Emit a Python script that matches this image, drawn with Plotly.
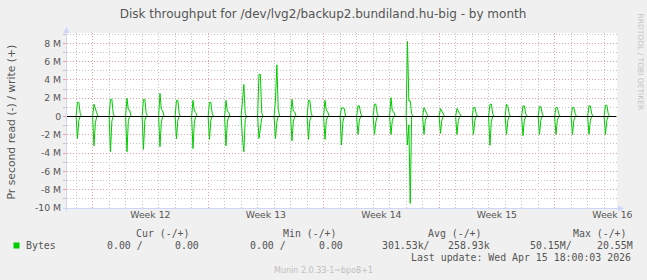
import plotly.graph_objects as go
import pandas as pd

# ---------------- data ----------------
title_text = "Disk throughput for /dev/lvg2/backup2.bundiland.hu-big - by month"
y_title = "Pr second read (-) / write (+)"

x_start = "2026-03-14 10:45"
x_end = "2026-04-16 18:45"
week0 = "2026-03-16"          # a Monday (start of ISO week 12)

# one backup burst per day; values in MB/s (1e6 bytes/s) at 2-hour samples
spike_days = pd.date_range("2026-03-15", "2026-04-16", freq="D")
sample_hours = [2, 4, 6, 8]

write_h02 = [1.55, 1.34, 1.88, 2.00, 1.88, 2.53, 1.77, 1.77, 1.55, 1.77, 1.70, 4.60, 1.80,
             1.88, 1.77, 1.77, 0.94, 1.16, 1.34, 2.07, 8.20, 0.98, 0.87, 0.87, 0.98, 1.34,
             1.34, 1.16, 1.10, 0.98, 0.98, 1.16, 1.23]
write_h04 = [1.55, 0.70, 1.88, 0.75, 1.88, 0.80, 1.77, 0.60, 1.55, 0.60, 3.50, 4.60, 5.65,
             0.60, 1.77, 0.70, 0.94, 1.16, 1.34, 0.60, 1.70, 0.60, 0.60, 0.50, 0.98, 1.34,
             1.10, 1.16, 1.10, 0.98, 0.98, 1.16, 1.23]
write_h06 = [0.30, 0.40, 0.30, 0.70, 0.30, 0.60, 0.30, 0.45, 0.30, 0.45, 0.30, 0.40, 0.80,
             0.50, 0.30, 0.50, 0.90, 0.30, 0.30, 0.50, 1.70, 0.30, 0.30, 0.30, 0.30, 0.30,
             0.30, 0.30, 0.30, 0.30, 0.30, 0.30, 0.30]
write_h08 = [0, 0, 0, 0, 0, 0, 0, 0, 0, 0, 0, 0, 0,
             0, 0, 0, 0, 0, 0, 0, 0.30, 0, 0, 0, 0, 0,
             0, 0, 0, 0, 0, 0, 0]

read_h02 = [2.40, 3.20, 3.85, 3.85, 3.60, 3.30, 2.43, 3.50, 2.50, 3.20, 2.40, 2.40, 2.40,
            2.65, 2.50, 2.50, 3.10, 1.96, 1.96, 1.96, 3.10, 1.96, 1.85, 1.96, 1.96, 3.15,
            1.96, 2.10, 1.96, 1.96, 1.96, 1.96, 1.96]
read_h04 = [0.40, 0.70, 0.50, 0.40, 0.40, 0.60, 0.40, 0.60, 0.40, 0.60, 3.85, 0.90, 0.60,
            0.50, 0.40, 0.40, 0.60, 0.40, 0.60, 0.40, 0.90, 0.40, 0.40, 0.40, 0.40, 0.50,
            0.40, 0.40, 0.40, 0.40, 0.40, 0.40, 0.40]
read_h06 = [0, 0, 0, 0, 0, 0, 0, 0, 0, 0, 0.30, 0.20, 0,
            0, 0, 0, 0, 0, 0, 0, 9.50, 0, 0, 0, 0, 0,
            0, 0, 0, 0, 0, 0, 0]
read_h08 = [0] * 33

y_tick_vals_m = [-10, -8, -6, -4, -2, 0, 2, 4, 6, 8]
y_tick_text = ["-10 M", "-8 M", "-6 M", "-4 M", "-2 M", "0", "2 M", "4 M", "6 M", "8 M"]
y_minor_vals_m = [-9, -7, -5, -3, -1, 1, 3, 5, 7, 9]

legend_name = "Bytes"
legend_headers = ["Cur (-/+)", "Min (-/+)", "Avg (-/+)", "Max (-/+)"]
legend_read = ["0.00 /", "0.00 /", "301.53k/", "50.15M/"]
legend_write = ["0.00", "0.00", "258.93k", "20.55M"]
last_update = "Last update: Wed Apr 15 18:00:03 2026"
munin_ver = "Munin 2.0.33-1~bpo8+1"
watermark = "RRDTOOL / TOBI OETIKER"

# ---------------- build series (2-hour consolidation, zero between bursts) ----------------
grid_t = pd.date_range("2026-03-14 10:00", "2026-04-16 18:00", freq="2h")
w_map = {t: 0.0 for t in grid_t}
r_map = {t: 0.0 for t in grid_t}
w_cols = [write_h02, write_h04, write_h06, write_h08]
r_cols = [read_h02, read_h04, read_h06, read_h08]
for i, d in enumerate(spike_days):
    for k, h in enumerate(sample_hours):
        t = d + pd.Timedelta(hours=h)
        w_map[t] = w_cols[k][i]
        r_map[t] = r_cols[k][i]
times = sorted(w_map)
write_vals = [w_map[t] * 1e6 for t in times]
read_vals = [-r_map[t] * 1e6 for t in times]

# ---------------- layout geometry ----------------
W, H = 647, 280
L, R, T, B = 67, 30, 33, 72
PW, PH = W - L - R, H - T - B


def px(x):
    return (x - L) / PW


def py(y):
    return (H - B - y) / PH


GREEN = "#00CC00"
GRID = "#C4C4C4"
MGRID = "#EDA0A0"
AXIS = "#CFD6F8"
FONT = "#555555"
SANS = "DejaVu Sans"
MONO = "DejaVu Sans Mono"
DASH = "1px,2px"

fig = go.Figure()
fig.add_trace(go.Scatter(x=times, y=read_vals, mode="lines",
                         line=dict(color=GREEN, width=1), hoverinfo="skip", showlegend=False))
fig.add_trace(go.Scatter(x=times, y=write_vals, mode="lines",
                         line=dict(color=GREEN, width=1), hoverinfo="skip", showlegend=False))

fig.update_layout(
    width=W, height=H,
    margin=dict(l=L, r=R, t=T, b=B, pad=0),
    paper_bgcolor="#F0F0F0", plot_bgcolor="#FFFFFF",
    font=dict(family=SANS, size=9.3, color=FONT),
    showlegend=False,
    title=dict(text=title_text, x=323 / W, xanchor="center", y=1 - 14 / H, yanchor="middle",
               font=dict(family=SANS, size=12, color=FONT)),
)

fig.update_xaxes(
    type="date", range=[x_start, x_end],
    tickmode="linear", tick0=week0, dtick=7 * 86400000,
    ticklabelmode="period", tickformat="Week %V",
    showgrid=True, gridcolor=MGRID, griddash=DASH, gridwidth=1,
    ticks="", showline=False, zeroline=False,
    tickfont=dict(family=SANS, size=9.3, color=FONT),
    minor=dict(tick0=week0, dtick=86400000, showgrid=True, gridcolor=GRID,
               griddash=DASH, gridwidth=1),
)

fig.update_yaxes(
    range=[-10e6, 9.125e6],
    tickmode="array", tickvals=[v * 1e6 for v in y_tick_vals_m], ticktext=y_tick_text,
    showgrid=True, gridcolor=MGRID, griddash=DASH, gridwidth=1,
    ticks="outside", ticklen=3, tickcolor=MGRID, tickwidth=1,
    zeroline=False, showline=False,
    tickfont=dict(family=SANS, size=9.3, color=FONT),
    minor=dict(tickmode="array", tickvals=[v * 1e6 for v in y_minor_vals_m], showgrid=True,
               gridcolor=GRID, griddash=DASH, gridwidth=1,
               ticks="outside", ticklen=3, tickcolor=GRID),
)

shapes = []
# zero rule (drawn above the data)
shapes.append(dict(type="line", xref="paper", yref="y", x0=0, x1=px(616), y0=0, y1=0,
                   line=dict(color="#000000", width=1), layer="above"))
# axes with arrows
shapes.append(dict(type="line", xref="paper", yref="paper", x0=px(66.5), x1=px(66.5),
                   y0=py(211.5), y1=py(30), line=dict(color=AXIS, width=1)))
shapes.append(dict(type="line", xref="paper", yref="paper", x0=px(63), x1=px(620),
                   y0=py(208.5), y1=py(208.5), line=dict(color=AXIS, width=1)))
shapes.append(dict(type="path", xref="paper", yref="paper",
                   path=f"M {px(63.5)},{py(33)} L {px(66.5)},{py(26.5)} L {px(69.5)},{py(33)} Z",
                   fillcolor=AXIS, line=dict(width=0)))
shapes.append(dict(type="path", xref="paper", yref="paper",
                   path=f"M {px(618)},{py(205.5)} L {px(624)},{py(208.5)} L {px(618)},{py(211.5)} Z",
                   fillcolor=AXIS, line=dict(width=0)))
# legend colour box
shapes.append(dict(type="rect", xref="paper", yref="paper", x0=px(13.5), x1=px(19.5),
                   y0=py(248.5), y1=py(242.5), fillcolor=GREEN, line=dict(width=0)))
fig.update_layout(shapes=shapes)

ann = []


def text(s, x, y, anchor="left", font=MONO, size=9.9, color=FONT, angle=0):
    ann.append(dict(text=s, x=px(x), y=py(y), xref="paper", yref="paper",
                    xanchor=anchor, yanchor="middle", showarrow=False,
                    borderpad=0, borderwidth=0, textangle=angle,
                    font=dict(family=font, size=size, color=color)))


text(y_title, 10.5, 122, anchor="center", font=SANS, size=10.8, angle=-90)
text(watermark, 640.5, 62, anchor="center", font=SANS, size=7.5, color="#C4C4C4", angle=90)

header_x = [136.1, 282.6, 427.8, 573.4]
read_x = [107.3, 250.4, 381.6, 530.1]
write_x = [175.3, 318.5, 447.6, 597.4]
for hdr, xh in zip(legend_headers, header_x):
    text(hdr, xh, 233.5)
text(legend_name, 26.4, 245.5)
for s, xx in zip(legend_read, read_x):
    text(s, xx, 245.5)
for s, xx in zip(legend_write, write_x):
    text(s, xx, 245.5)
text(last_update, 411.3, 257.5)
text(munin_ver, 323.5, 270, anchor="center", font=SANS, size=8, color="#BEBEBE")

fig.update_layout(annotations=ann)

fig.write_html("out.html")
